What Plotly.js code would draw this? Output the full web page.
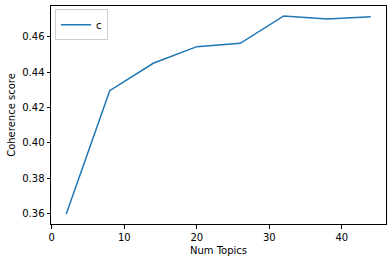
<!DOCTYPE html>
<html><head><meta charset="utf-8">
<script src="https://cdn.plot.ly/plotly-3.0.1.min.js"></script>
<style>html,body{margin:0;padding:0;background:#fff}</style>
</head><body>
<div id="chart" style="width:392px;height:262px"></div>
<script>
const numTopics = [2, 8, 14, 20, 26, 32, 38, 44];
const coherence = [0.3597, 0.4295, 0.4450, 0.4544, 0.4563, 0.4718, 0.4700, 0.4713];
const seriesName = 'c';

function pad(arr){const lo=Math.min(...arr),hi=Math.max(...arr),m=(hi-lo)*0.05;return [lo-m,hi+m];}
const xr = [-0.1, 46.1];
const yr = pad(coherence);

const axisCommon = {showline:true, mirror:true, linecolor:'#000', linewidth:1, ticks:'outside', ticklen:3.5, tickwidth:1, tickcolor:'#000', showgrid:false, zeroline:false, tickfont:{family:'DejaVu Sans', size:10, color:'#000'}};

Plotly.newPlot('chart', [{
  x: numTopics, y: coherence, type:'scatter', mode:'lines', name: seriesName,
  line:{color:'#1f77b4', width:1.5}
}], {
  width:392, height:262,
  margin:{l:51, r:6, t:6, b:38},
  paper_bgcolor:'#fff', plot_bgcolor:'#fff',
  font:{family:'DejaVu Sans', size:10, color:'#000'},
  showlegend:true,
  legend:{x:0.012, y:0.985, xanchor:'left', yanchor:'top', itemwidth:30, bordercolor:'#ccc', borderwidth:1, bgcolor:'rgba(255,255,255,0.8)', font:{family:'DejaVu Sans', size:10}},
  xaxis: Object.assign({}, axisCommon, {range:xr, tickvals:[0,10,20,30,40], title:{text:'Num Topics', font:{family:'DejaVu Sans', size:10}, standoff:5}}),
  yaxis: Object.assign({}, axisCommon, {range:yr, tickvals:[0.36,0.38,0.40,0.42,0.44,0.46], ticktext:['0.36','0.38','0.40','0.42','0.44','0.46'], title:{text:'Coherence score', font:{family:'DejaVu Sans', size:10}, standoff:4}})
}, {staticPlot:true});
</script>
</body></html>
